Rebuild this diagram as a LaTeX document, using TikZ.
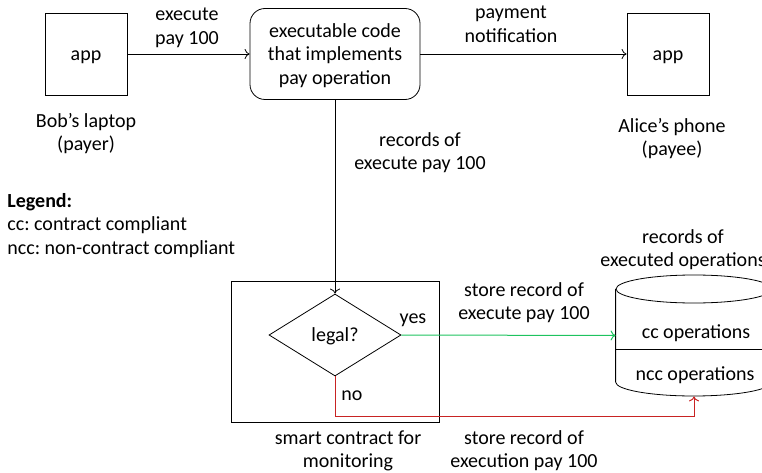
\documentclass[tikz,border=0pt]{standalone}
\usepackage{fontspec}
\setmainfont{Carlito}
\usetikzlibrary{calc}
\usetikzlibrary{positioning}
\usetikzlibrary{shapes.geometric, arrows.meta}
\definecolor{yesgreen}{RGB}{30,195,95}
\definecolor{nored}{RGB}{200,35,35}
\tikzstyle{appbox} = [rectangle, draw=black, minimum width=82pt, minimum height=82pt,
text height=18pt, text depth=5pt]
\tikzstyle{codebox} = [rectangle, rounded corners=15pt, draw=black,
minimum width=170pt, minimum height=91pt, align=center, text depth=0pt]
\tikzstyle{decision} = [diamond, draw=black, aspect=1.6,
minimum width=132pt, minimum height=82pt, inner sep=0pt, text height=18pt, text depth=5pt]
\tikzstyle{label} = [align=center, inner sep=0pt, text depth=0pt]
\tikzstyle{arrow} = [line width=0.8pt, -{To[length=5pt, width=10pt]}]

\begin{document}
\frenchspacing
\begin{tikzpicture}[x=1pt, y=-1pt, line width=0.8pt, font=\fontsize{20}{23.5}\selectfont]
    \clip (0,0) rectangle (762,473);

    % payer and payee
    \node[appbox] (bob) at (86,54) {app};
    \node[appbox] (alice) at (668,54) {app};
    \node[label] (bobtext) at (86,132) {Bob’s laptop\\(payer)};
    \node[label] (alicetext) at (672,137) {Alice’s phone\\(payee)};

    % the pay operation
    \node[codebox] (code) at (335,54) {executable code\\that implements\\pay operation};

    \draw[arrow] (bob) -- (code);
    \draw[arrow] (code) -- (alice);
    \node[label] (execlabel) at (187,26) {execute\\pay 100};
    \node[label] (notelabel) at (511,24) {payment\\notification};

    % legend
    \node[align=left, anchor=north west, inner sep=0pt] (legend) at (7,193)
        {\textbf{Legend:}\\cc: contract compliant\\ncc: non-contract compliant};

    % monitoring contract
    \node[draw, minimum width=208pt, minimum height=141pt] (monitor) at (335,351.5) {};
    \node[decision] (legal) at (335,335) {legal?};
    \node[label] (monitortext) at (348,449) {smart contract for\\monitoring};

    \draw[arrow] (code) -- (legal);
    \node[label] (recordlabel) at (420,151) {records of\\execute pay 100};

    % records of executed operations
    \node[minimum width=156pt, minimum height=121pt, inner sep=0pt] (db) at (694,335.5) {};
    \draw (694,289) ellipse [x radius=78, y radius=14];
    \draw (db.west |- 0,289) -- (db.west |- 0,382)
        arc [start angle=180, end angle=0, x radius=78, y radius=14]
        -- (db.east |- 0,289);
    \draw (db.west |- 0,349) -- (db.east |- 0,349);
    \node[label] (cctext) at (696,332) {cc operations};
    \node[label] (ncctext) at (695,374) {ncc operations};
    \node[label] (dblabel) at (683,248) {records of\\executed operations};

    % yes / no branches
    \draw[arrow, yesgreen, line width=1pt] (legal.east) -- (db.west);
    \draw[arrow, nored, line width=1pt] (legal.south) -- ++(0,40) -| (db.south);
    \node[label] (yes) at (413,319) {yes};
    \node[label] (no) at (352,396) {no};
    \node[label] (yeslabel) at (524,301) {store record of\\execute pay 100};
    \node[label] (nolabel) at (524,449) {store record of\\execution pay 100};
\end{tikzpicture}
\end{document}
